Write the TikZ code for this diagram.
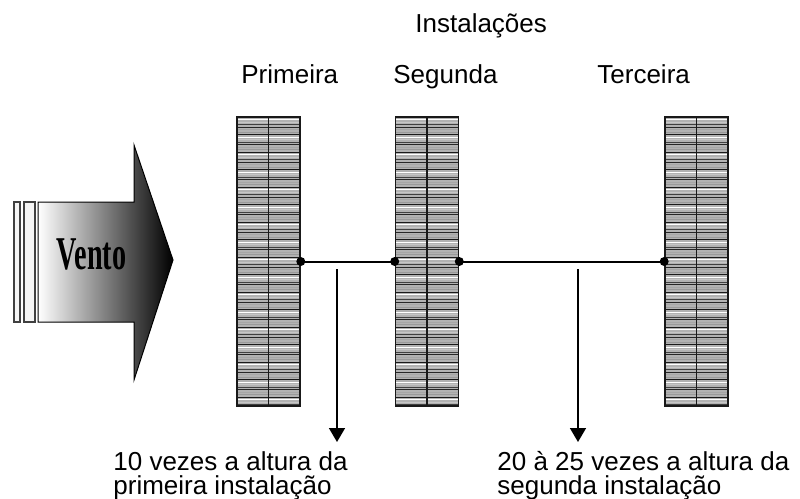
\documentclass[tikz,border=0pt]{standalone}
\usepackage{fontspec}
\usepackage{graphicx}
\setmainfont{Liberation Sans}
\newfontfamily\serifa{Liberation Serif}
\usetikzlibrary{arrows.meta, positioning, calc}

\begin{document}
\begin{tikzpicture}[
    x=0.5pt, y=-0.5pt,
    barreira/.style={rectangle, draw=black!90, line width=0.8pt, minimum width=31.5pt, minimum height=144.5pt, inner sep=0pt, fill=gray!60,
        path picture={
            \foreach \k in {1,...,115}{
                \pgfmathtruncatemacro\tom{mod(\k*3,7)}
                \ifcase\tom \def\tinta{black!90}\or\def\tinta{gray!70}\or\def\tinta{black!75}\or\def\tinta{white}\or\def\tinta{gray!80}\or\def\tinta{black!85}\else\def\tinta{gray!45}\fi
                \draw[\tinta, line width=0.45pt] ([yshift=-\k*1.25pt]path picture bounding box.north west) -- ([yshift=-\k*1.25pt]path picture bounding box.north east);
            }
            \draw[line width=0.8pt, black!90] (path picture bounding box.north) -- (path picture bounding box.south);
        }},
    rotulo/.style={font=\fontsize{13}{12}\selectfont, inner sep=0pt, anchor=base west},
    nota/.style={font=\fontsize{13}{12}\selectfont, inner sep=0pt, align=left, anchor=base west},
    linha/.style={line width=1pt},
    seta/.style={-{Triangle[length=7pt, width=8pt]}, line width=0.8pt},
    ponto/.style={circle, fill, inner sep=0pt, minimum size=4.5pt}
]
    \useasboundingbox (0,0) rectangle (800,499);

    % Vento
    \draw[black!75, fill=gray!8, line width=0.6pt] (14,202) rectangle (20,322);
    \draw[black!75, fill=gray!8, line width=0.6pt] (24,202) rectangle (35,322);
    \draw[line width=0.5pt, left color=white, middle color=gray!55, right color=black]
        (38,202) -- (134,202) -- (134,145) -- (173,260) -- (134,380) -- (134,322) -- (38,322) -- cycle;
    \node[font=\serifa\fontsize{23.5}{23.5}\selectfont\bfseries, inner sep=0pt, anchor=base] (vento) at (91.5,269) {\scalebox{0.6}[1]{Vento}};

    % Instalacoes
    \node[barreira] (prim) at (268.5,261.5) {};
    \node[barreira] (seg) at (427,261.5) {};
    \node[barreira] (terc) at (696.5,261.5) {};

    % Titulos
    \node[rotulo] (titulo) at (415,32) {Instalações};
    \node[rotulo] (lprim) at (241,83) {Primeira};
    \node[rotulo] (lseg) at (393,83) {Segunda};
    \node[rotulo] (lterc) at (597,83) {Terceira};

    % Ligacao
    \draw[linha] (prim.east) -- (seg.west);
    \draw[linha] (seg.east) -- (terc.west);
    \node[ponto] (p1) at (prim.east) {};
    \node[ponto] (p2) at (seg.west) {};
    \node[ponto] (p3) at (seg.east) {};
    \node[ponto] (p4) at (terc.west) {};

    % Distancias
    \coordinate (s1) at (337,269);
    \coordinate (f1) at (337,442);
    \coordinate (s2) at (578,269);
    \coordinate (f2) at (578,442);
    \draw[seta] (s1) -- (f1);
    \draw[seta] (s2) -- (f2);

    \node[nota] (nota1) at (113,494) {10 vezes a altura da\\primeira instalação};
    \node[nota] (nota2) at (497,494) {20 à 25 vezes a altura da\\segunda instalação};
\end{tikzpicture}
\end{document}
